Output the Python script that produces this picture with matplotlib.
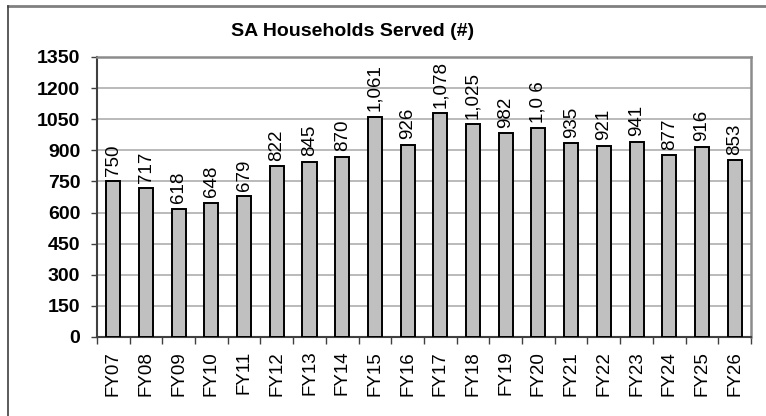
import matplotlib
matplotlib.use("Agg")
import matplotlib.pyplot as plt
from matplotlib.lines import Line2D
import numpy as np

# chart data
years = ["FY07", "FY08", "FY09", "FY10", "FY11", "FY12", "FY13", "FY14", "FY15", "FY16",
         "FY17", "FY18", "FY19", "FY20", "FY21", "FY22", "FY23", "FY24", "FY25", "FY26"]
households = [750, 717, 618, 648, 679, 822, 845, 870, 1061, 926,
              1078, 1025, 982, 1006, 935, 921, 941, 877, 916, 853]
# labels as shown on the chart (FY20 label is clipped in the original)
bar_labels = ["750", "717", "618", "648", "679", "822", "845", "870", "1,061", "926",
              "1,078", "1,025", "982", "1,0 6", "935", "921", "941", "877", "916", "853"]
y_ticks = [0, 150, 300, 450, 600, 750, 900, 1050, 1200, 1350]

plt.rcParams['font.family'] = ['Liberation Sans', 'DejaVu Sans']

fig = plt.figure(figsize=(7.66, 4.16), dpi=100)
ax = fig.add_axes([0.1266, 0.19, 0.8538, 0.673])

x = np.arange(len(years))
ax.bar(x, households, width=0.43, color='#c0c0c0', edgecolor='black', linewidth=1.4, zorder=3)

for xi, val, lab in zip(x, households, bar_labels):
    ax.annotate(lab, (xi, val), xytext=(0, 4), textcoords='offset points',
                rotation=90, ha='center', va='bottom', fontsize=13.5, zorder=4)

ax.set_xlim(-0.5, len(years) - 0.5)
ax.set_ylim(0, 1350)
ax.set_yticks(y_ticks)
ax.set_yticklabels([str(t) for t in y_ticks], fontsize=14, fontweight='bold')
ax.yaxis.grid(True, color='#b4b4b4', linewidth=1.3, zorder=0)

# category labels at centres, tick marks between categories
ax.set_xticks(x)
ax.set_xticklabels(years, rotation=90, fontsize=13.5)
ax.tick_params(axis='x', which='major', length=0, pad=10)
ax.set_xticks(np.arange(-0.5, len(years)), minor=True)
ax.tick_params(axis='x', which='minor', length=5, width=1, color='#404040', direction='out')
ax.tick_params(axis='y', length=4, width=1, color='#404040', direction='out', pad=8)

for side in ['top', 'right']:
    ax.spines[side].set_color('#8c8c8c')
    ax.spines[side].set_linewidth(1.8)
for side in ['left', 'bottom']:
    ax.spines[side].set_color('#404040')
    ax.spines[side].set_linewidth(1.5)

fig.text(0.46, 0.925, "SA Households Served (#)", ha='center', va='center',
         fontsize=14, fontweight='bold')

# outer chart frame (top and left edges visible)
fig.add_artist(Line2D([0.0105, 0.999], [0.986, 0.986], transform=fig.transFigure,
                      color='#808080', linewidth=2))
fig.add_artist(Line2D([0.0105, 0.0105], [0.0, 0.986], transform=fig.transFigure,
                      color='#404040', linewidth=1.2))

fig.savefig("out.png", dpi=100)
